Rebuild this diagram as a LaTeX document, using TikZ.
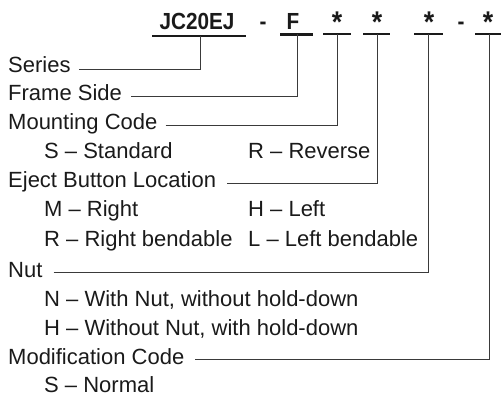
\documentclass[tikz,border=0pt]{standalone}
\usepackage{fontspec}
\setmainfont{Liberation Sans}
\newfontfamily\hdrfont{Liberation Sans}[FakeStretch=0.89]
\definecolor{ink}{HTML}{1A1A1A}
\definecolor{wire}{HTML}{3A3A3A}
\begin{document}
\begin{tikzpicture}[x=1pt,y=-1pt,
  lbl/.style={anchor=base west, inner sep=0pt, font=\fontsize{22}{24}\selectfont, text=ink},
  hdr/.style={anchor=base, inner sep=0pt, font=\hdrfont\bfseries\fontsize{23.3}{26}\selectfont, text=ink},
  star/.style={anchor=base, inner sep=0pt, font=\hdrfont\bfseries\fontsize{30}{32}\selectfont, text=ink},
  uline/.style={line width=2.2pt, draw=ink},
  lead/.style={line width=0.9pt, draw=wire}]
\useasboundingbox (0,0) rectangle (501,396);

% header
\node[hdr] (jc) at (197,30) {JC20EJ};
\node[hdr] (d1) at (263,30) {-};
\node[hdr] (f)  at (293,30) {F};
\node[star] (s1) at (337,33) {*};
\node[star] (s2) at (377,33) {*};
\node[star] (s3) at (429,33) {*};
\node[hdr] (d2) at (461,30) {-};
\node[star] (s4) at (488,33) {*};

% underlines
\coordinate (ja) at (152,36);  \coordinate (jb) at (246,36);
\coordinate (fa) at (280,34.5); \coordinate (fb) at (313,34.5);
\coordinate (aa) at (323,34);  \coordinate (ab) at (351,34);
\coordinate (ba) at (363,34);  \coordinate (bb) at (390,34);
\coordinate (ca) at (414,34);  \coordinate (cb) at (443,34);
\coordinate (da) at (475,34);  \coordinate (db) at (503,34);
\draw[uline] (ja) -- (jb);
\draw[uline] (fa) -- (fb);
\draw[uline] (aa) -- (ab);
\draw[uline] (ba) -- (bb);
\draw[uline] (ca) -- (cb);
\draw[uline] (da) -- (db);
\coordinate (t0) at (200.7,36);
\coordinate (t1) at (297,34.5);
\coordinate (t2) at (337,34);
\coordinate (t3) at (377,34);
\coordinate (t4) at (428.5,34);
\coordinate (t5) at (489,34);

% labels
\node[lbl] (series) at (8,72.7)  {Series};
\node[lbl] (frame)  at (8,100.7) {Frame Side};
\node[lbl] (mount)  at (8,129.3) {Mounting Code};
\node[lbl] (mS)     at (44,158.3) {S -- Standard};
\node[lbl] (mR)     at (248,158.3) {R -- Reverse};
\node[lbl] (eject)  at (8,187.3) {Eject Button Location};
\node[lbl] (eM)     at (44,216.7) {M -- Right};
\node[lbl] (eH)     at (248,216.7) {H -- Left};
\node[lbl] (eR)     at (44,246) {R -- Right bendable};
\node[lbl] (eL)     at (248,246) {L -- Left bendable};
\node[lbl] (nut)    at (8,277.5) {Nut};
\node[lbl] (nN)     at (44,306.5) {N -- With Nut, without hold-down};
\node[lbl] (nH)     at (44,335.5) {H -- Without Nut, with hold-down};
\node[lbl] (mod)    at (8,364) {Modification Code};
\node[lbl] (oS)     at (44,392.7) {S -- Normal};

% leaders
\draw[lead] ([xshift=8pt,yshift=3pt]series.base east) -| (t0);
\draw[lead] ([xshift=9pt,yshift=4pt]frame.base east) -| (t1);
\draw[lead] ([xshift=8pt,yshift=4pt]mount.base east) -| (t2);
\draw[lead] ([xshift=11pt,yshift=3.5pt]eject.base east) -| (t3);
\draw[lead] ([xshift=11pt,yshift=5pt]nut.base east) -| (t4);
\draw[lead] ([xshift=11pt,yshift=5pt]mod.base east) -| (t5);
\end{tikzpicture}
\end{document}
